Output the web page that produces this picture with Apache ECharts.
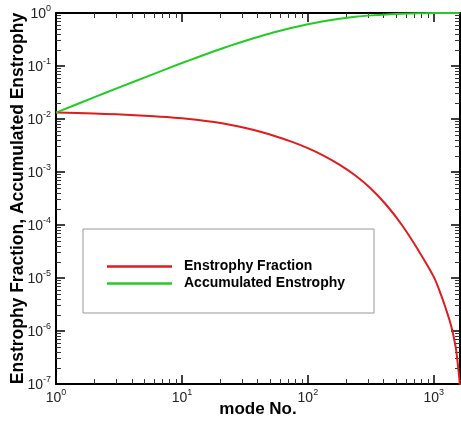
<!DOCTYPE html>
<html>
<head>
<meta charset="utf-8">
<script src="https://cdn.jsdelivr.net/npm/echarts@6/dist/echarts.min.js"></script>
<style>
  html, body { margin: 0; padding: 0; background: #ffffff; }
  #chart { width: 461px; height: 423px; }
</style>
</head>
<body>
<div id="chart"></div>
<script>
// Mode numbers sampled along the spectrum
const modes = [1, 2, 3, 6, 10, 13, 18, 24, 32, 42, 56, 75, 100, 133, 178, 237, 316, 422, 562, 750, 1000, 1150, 1259, 1340, 1413, 1496, 1560, 1607, 1620];
// Fraction of total enstrophy carried by each mode
const enstrophyFraction = [0.01321, 0.01268, 0.01225, 0.01125, 0.0103, 0.00968, 0.00875, 0.0078, 0.00675, 0.00573, 0.00469, 0.00371, 0.00282, 0.00204, 0.00138, 0.00087, 0.00049, 0.000236, 0.000098, 0.000034, 0.0000105, 0.0000046, 0.00000245, 0.00000154, 0.00000095, 0.00000048, 0.00000021, 0.0000001, 0.000000032];
// Running sum of the fraction
const accumulatedEnstrophy = [0.0132, 0.0256, 0.0375, 0.0711, 0.1138, 0.1435, 0.1897, 0.2395, 0.299, 0.3635, 0.4416, 0.527, 0.615, 0.701, 0.782, 0.850, 0.902, 0.941, 0.968, 0.988, 1.0, 1.0, 1.0, 1.0, 1.0, 1.0, 1.0, 1.0, 1.0];

const xMajor = [1, 10, 100, 1000];
const yMajor = [1e-7, 1e-6, 1e-5, 1e-4, 1e-3, 1e-2, 1e-1, 1];
const X_MIN = 1, X_MAX = 1615, Y_MIN = 1e-7, Y_MAX = 1;

function minorsBetween(lo, hi) {
  const out = [];
  for (let d = Math.floor(Math.log10(lo)); d <= Math.ceil(Math.log10(hi)); d++) {
    for (let k = 2; k <= 9; k++) {
      const v = k * Math.pow(10, d);
      if (v > lo && v < hi) out.push(v);
    }
  }
  return out;
}
const xMinor = minorsBetween(X_MIN, X_MAX);
const yMinor = minorsBetween(Y_MIN, Y_MAX);

const FONT = '"Liberation Sans", Arial, Helvetica, sans-serif';

function powLabel(v) {
  const e = Math.round(Math.log10(v));
  return '{b|10}{s|' + e + '}';
}
const labelRich = {
  b: { fontSize: 14, fontFamily: FONT, color: '#222', lineHeight: 17, verticalAlign: 'bottom' },
  s: { fontSize: 9, fontFamily: FONT, color: '#222', lineHeight: 9, verticalAlign: 'top' }
};

function makeAxis(opts) {
  return Object.assign({
    type: 'log',
    logBase: 10,
    nameMoveOverlap: false,
    axisLine: { show: true, onZero: false, lineStyle: { color: '#000', width: 2 } },
    splitLine: { show: false },
    minorTick: { show: false },
    minorSplitLine: { show: false }
  }, opts);
}

function pairs(ys) {
  return modes.map((m, i) => [m, ys[i]]);
}

const chart = echarts.init(document.getElementById('chart'), null, { renderer: 'canvas' });

chart.setOption({
  backgroundColor: '#ffffff',
  animation: false,
  grid: { left: 56, right: 1, top: 13, bottom: 39, containLabel: false, outerBoundsMode: 'none' },
  xAxis: [
    makeAxis({
      position: 'bottom', min: X_MIN, max: X_MAX,
      name: 'mode No.', nameLocation: 'middle', nameGap: 17,
      nameTextStyle: { fontFamily: FONT, fontSize: 17, fontWeight: 'bold', color: '#000' },
      axisTick: { show: true, inside: true, length: 9, customValues: xMajor, lineStyle: { color: '#000', width: 1.5 } },
      axisLabel: { show: true, customValues: xMajor, margin: 4, formatter: powLabel, rich: labelRich }
    }),
    makeAxis({
      position: 'top', min: X_MIN, max: X_MAX,
      axisTick: { show: true, inside: true, length: 9, customValues: xMajor, lineStyle: { color: '#000', width: 1.5 } },
      axisLabel: { show: false }
    }),
    makeAxis({
      position: 'bottom', min: X_MIN, max: X_MAX,
      axisLine: { show: false },
      axisTick: { show: true, inside: true, length: 5, customValues: xMinor, lineStyle: { color: '#333', width: 1 } },
      axisLabel: { show: false }
    }),
    makeAxis({
      position: 'top', min: X_MIN, max: X_MAX,
      axisLine: { show: false },
      axisTick: { show: true, inside: true, length: 5, customValues: xMinor, lineStyle: { color: '#333', width: 1 } },
      axisLabel: { show: false }
    })
  ],
  yAxis: [
    makeAxis({
      position: 'left', min: Y_MIN, max: Y_MAX,
      name: 'Enstrophy Fraction, Accumulated Enstrophy', nameLocation: 'middle', nameGap: 29, nameRotate: 90,
      nameTextStyle: { fontFamily: FONT, fontSize: 17.5, fontWeight: 'bold', color: '#000' },
      axisTick: { show: true, inside: true, length: 9, customValues: yMajor, lineStyle: { color: '#000', width: 1.5 } },
      axisLabel: { show: true, customValues: yMajor, margin: 5, formatter: powLabel, rich: labelRich }
    }),
    makeAxis({
      position: 'right', min: Y_MIN, max: Y_MAX,
      axisTick: { show: true, inside: true, length: 9, customValues: yMajor, lineStyle: { color: '#000', width: 1.5 } },
      axisLabel: { show: false }
    }),
    makeAxis({
      position: 'left', min: Y_MIN, max: Y_MAX,
      axisLine: { show: false },
      axisTick: { show: true, inside: true, length: 5, customValues: yMinor, lineStyle: { color: '#333', width: 1 } },
      axisLabel: { show: false }
    }),
    makeAxis({
      position: 'right', min: Y_MIN, max: Y_MAX,
      axisLine: { show: false },
      axisTick: { show: true, inside: true, length: 5, customValues: yMinor, lineStyle: { color: '#333', width: 1 } },
      axisLabel: { show: false }
    })
  ],
  legend: {
    orient: 'vertical',
    left: 83,
    top: 229,
    padding: [30, 29, 22, 24],
    itemGap: 2,
    itemWidth: 65,
    itemHeight: 2.5,
    icon: 'rect',
    borderColor: '#999',
    borderWidth: 1,
    backgroundColor: '#ffffff',
    textStyle: { fontFamily: FONT, fontSize: 14, fontWeight: 'bold', color: '#000', lineHeight: 15, padding: [0, 0, 0, 7] },
    data: ['Enstrophy Fraction', 'Accumulated Enstrophy']
  },
  series: [
    {
      name: 'Enstrophy Fraction',
      type: 'line',
      xAxisIndex: 0, yAxisIndex: 0,
      data: pairs(enstrophyFraction),
      showSymbol: false, symbol: 'none',
      smooth: 0.3,
      color: '#e01c1c',
      lineStyle: { color: '#e01c1c', width: 2 },
      clip: true
    },
    {
      name: 'Accumulated Enstrophy',
      type: 'line',
      xAxisIndex: 0, yAxisIndex: 0,
      data: pairs(accumulatedEnstrophy),
      showSymbol: false, symbol: 'none',
      smooth: 0.3,
      color: '#22cc22',
      lineStyle: { color: '#22cc22', width: 2 },
      clip: true
    }
  ]
});
</script>
</body>
</html>
